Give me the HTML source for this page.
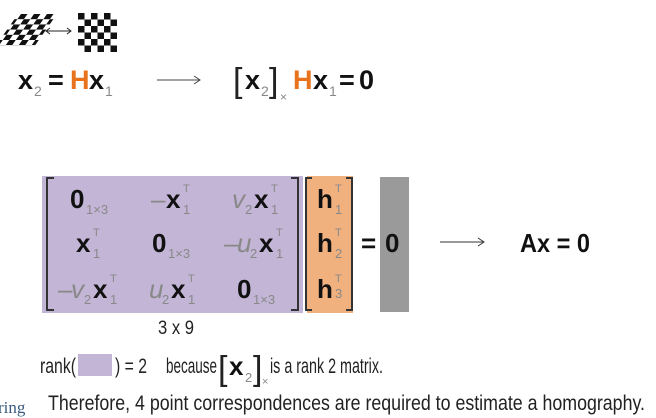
<!DOCTYPE html>
<html><head><meta charset="utf-8"><style>
html,body{margin:0;padding:0;background:#fff;width:656px;height:418px;overflow:hidden}
svg{display:block;font-family:"Liberation Sans",sans-serif}
.b{font-weight:bold;fill:#111}
.s{fill:#888}
.o{fill:#e8731c;font-weight:bold}
</style></head><body>
<svg width="656" height="418" viewBox="0 0 656 418">
<defs>
<pattern id="chk" width="13" height="13" patternUnits="userSpaceOnUse"><rect width="6.5" height="6.5" fill="#111"/><rect x="6.5" y="6.5" width="6.5" height="6.5" fill="#111"/></pattern>
</defs>
<g transform="translate(8,14) skewX(-35) scale(1,0.8)">
<rect x="10" y="0" width="39" height="39" fill="url(#chk)"/>
</g>
<g stroke="#222" stroke-width="1" fill="none">
<line x1="47" y1="31" x2="70" y2="31"/><path d="M50 28 L46 31 L50 34 M67 28 L71 31 L67 34"/>
</g>
<rect x="78" y="13" width="39" height="39" fill="url(#chk)"/>

<g>
<text x="18" y="89" font-size="27" class="b">x</text><text x="34" y="96" font-size="14" class="s">2</text>
<text x="48" y="89" font-size="27" class="b">=</text>
<text x="70" y="89" font-size="27" class="o">H</text><text x="89" y="89" font-size="27" class="b">x</text><text x="105" y="96" font-size="14" class="s">1</text>
<line x1="157" y1="80" x2="199" y2="80" stroke="#444"/><path d="M194 76 L200 80 L194 84" stroke="#444" fill="none"/>
<text x="233" y="92" font-size="34" fill="#222">[</text>
<text x="245" y="89" font-size="27" class="b">x</text><text x="261" y="96" font-size="14" class="s">2</text>
<text x="269" y="92" font-size="34" fill="#222">]</text><text x="280" y="101" font-size="12" class="s">×</text>
<text x="293" y="89" font-size="27" class="o">H</text><text x="313" y="89" font-size="27" class="b">x</text><text x="329" y="96" font-size="14" class="s">1</text>
<text x="339" y="89" font-size="27" class="b">=</text><text x="359" y="89" font-size="27" class="b">0</text>
</g>

<rect x="42" y="176" width="261" height="137" fill="#c2b5d6"/>
<rect x="307" y="176" width="46" height="137" fill="#f1b17f"/>
<rect x="380" y="177" width="29" height="135" fill="#9a9a9a"/>
<g stroke="#333" stroke-width="2" fill="none">
<path d="M54 178 H47 V310 H54"/><path d="M291 178 H298 V310 H291"/>
<path d="M312 178 H306 V310 H312"/><path d="M346 178 H352 V310 H346"/>
</g>
<g font-size="26">
<text x="70" y="208" class="b">0</text><text x="86" y="214" font-size="13" class="s">1×3</text>
<text x="151" y="208" class="s">–</text><text x="166" y="208" class="b">x</text><text x="183" y="192" font-size="11" class="s">T</text><text x="183" y="214" font-size="13" class="s">1</text>
<text x="232" y="208" class="s" font-style="italic">v</text><text x="245" y="214" font-size="13" class="s">2</text><text x="254" y="208" class="b">x</text><text x="271" y="192" font-size="11" class="s">T</text><text x="271" y="214" font-size="13" class="s">1</text>
<text x="76" y="252" class="b">x</text><text x="93" y="236" font-size="11" class="s">T</text><text x="93" y="258" font-size="13" class="s">1</text>
<text x="152" y="252" class="b">0</text><text x="168" y="258" font-size="13" class="s">1×3</text>
<text x="224" y="252" class="s">–</text><text x="237" y="252" class="s" font-style="italic">u</text><text x="250" y="258" font-size="13" class="s">2</text><text x="259" y="252" class="b">x</text><text x="276" y="236" font-size="11" class="s">T</text><text x="276" y="258" font-size="13" class="s">1</text>
<text x="58" y="298" class="s">–</text><text x="71" y="298" class="s" font-style="italic">v</text><text x="84" y="304" font-size="13" class="s">2</text><text x="93" y="298" class="b">x</text><text x="110" y="282" font-size="11" class="s">T</text><text x="110" y="304" font-size="13" class="s">1</text>
<text x="149" y="298" class="s" font-style="italic">u</text><text x="162" y="304" font-size="13" class="s">2</text><text x="171" y="298" class="b">x</text><text x="188" y="282" font-size="11" class="s">T</text><text x="188" y="304" font-size="13" class="s">1</text>
<text x="237" y="298" class="b">0</text><text x="253" y="304" font-size="13" class="s">1×3</text>
</g>
<g font-size="26">
<text x="317" y="208" class="b">h</text><text x="335" y="192" font-size="11" class="s">T</text><text x="335" y="214" font-size="13" class="s">1</text>
<text x="317" y="252" class="b">h</text><text x="335" y="236" font-size="11" class="s">T</text><text x="335" y="258" font-size="13" class="s">2</text>
<text x="317" y="298" class="b">h</text><text x="335" y="282" font-size="11" class="s">T</text><text x="335" y="298" font-size="13" class="s">3</text>
</g>
<text x="361" y="252" font-size="26" class="b">=</text><text x="385" y="252" font-size="26" class="b">0</text>
<line x1="440" y1="242" x2="483" y2="242" stroke="#333"/><path d="M478 238 L484 242 L478 246" stroke="#333" fill="none"/>
<text x="520" y="252" font-size="26" class="b" textLength="70" lengthAdjust="spacingAndGlyphs">Ax = 0</text>
<text x="158" y="334" font-size="19" fill="#222" textLength="36" lengthAdjust="spacingAndGlyphs">3 x 9</text>
<g font-size="21" fill="#222">
<text x="40" y="373" textLength="36" lengthAdjust="spacingAndGlyphs">rank(</text>
<rect x="78" y="354" width="34" height="22" fill="#c2b5d6"/>
<text x="115" y="373" textLength="32" lengthAdjust="spacingAndGlyphs">) = 2</text>
<text x="166" y="373" textLength="51" lengthAdjust="spacingAndGlyphs">because</text>
<text x="218" y="380" font-size="34">[</text>
<text x="229" y="375" font-size="26" class="b">x</text><text x="245" y="382" font-size="13" class="s">2</text>
<text x="253" y="380" font-size="34">]</text><text x="262" y="385" font-size="11" class="s">×</text>
<text x="270" y="373" textLength="113" lengthAdjust="spacingAndGlyphs">is a rank 2 matrix.</text>
</g>
<text x="48" y="410" font-size="21" fill="#222" textLength="597" lengthAdjust="spacingAndGlyphs">Therefore, 4 point correspondences are required to estimate a homography.</text>
<text x="-2" y="413" font-size="17" fill="#3a5a80" font-family="Liberation Serif,serif">ring</text>
</svg>
</body></html>
